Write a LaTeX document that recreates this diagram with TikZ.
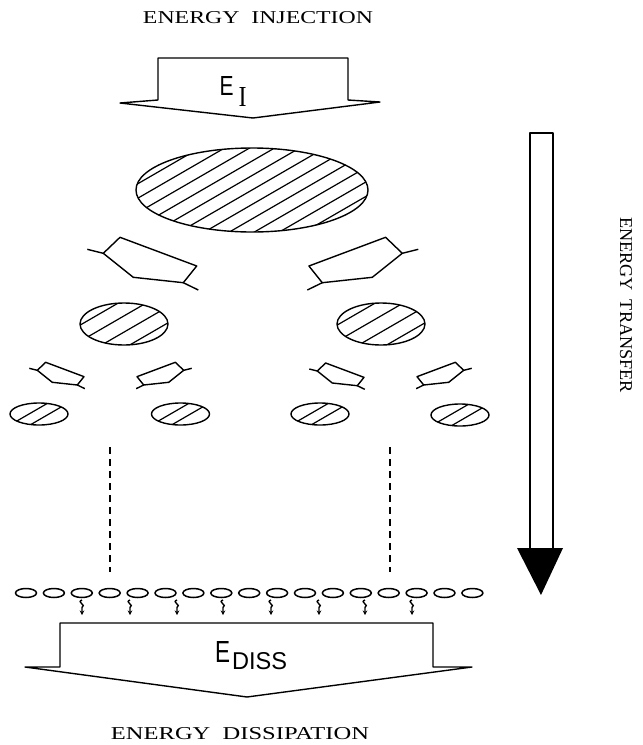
\documentclass[tikz,border=0pt]{standalone}
\usepackage{graphicx}
\usepackage{fontspec}
\setmainfont{Liberation Serif}
\setsansfont{Liberation Sans}
\usetikzlibrary{arrows.meta}
\newcommand\hatchell[7]{%
  \begin{scope}
    \clip (#1,#2) ellipse [x radius=#3pt, y radius=#4pt];
    \foreach \k in {#6} {\draw[hatchline] ({#1+\k*#5-121},{#2+70}) -- ({#1+\k*#5+121},{#2-70});}
  \end{scope}
  \draw[outl] (#1,#2) ellipse [x radius=#3pt, y radius=#4pt];
  \coordinate (#7) at (#1,#2);}
\begin{document}
\begin{tikzpicture}[x=1pt,y=-1pt,
  outl/.style={line width=1.4pt, line join=round},
  hatchline/.style={line width=1.2pt},
  lbl/.style={inner sep=0pt, font=\rmfamily},
  blockarr/.pic={
    \draw[outl, fill=white] (16,4)--(32.7,-12)--(109.4,16.7)--(96,33.4)--(46,28)--cycle;
    \draw[outl] (0,0)--(16,4) (96,33.4)--(111,40.7);
  },
  sq/.style={line width=1.4pt, -{Stealth[length=4.5pt,width=4.5pt]}},
  dashln/.style={line width=1.4pt, dash pattern=on 7pt off 5pt}
]
\useasboundingbox (0,0) rectangle (643,745);

% labels
\node[lbl] (inj) at (258,18) {\resizebox{230pt}{12pt}{ENERGY\ \ INJECTION}};
\node[lbl] (diss) at (240,734) {\resizebox{258pt}{12pt}{ENERGY\ \ DISSIPATION}};
\node[lbl, rotate=-90] (trans) at (626,305) {\resizebox{176pt}{12pt}{ENERGY\ \ TRANSFER}};

% injection arrow
\draw[outl] (158,100) -- (158,58) -- (348,58) -- (348,100) -- (380,102) -- (253,118) -- (120,103) -- cycle;
\node[inner sep=0pt] (ei) at (226.5,86) {\resizebox{14pt}{19pt}{\sffamily E}};
\node[inner sep=0pt] (eis) at (242.5,96.5) {\resizebox{8pt}{19pt}{\rmfamily I}};

% big eddy
\hatchell{252}{190}{116}{42}{25}{-5,...,5}{big}

% medium arrows
\pic at (87.3,249.3) {blockarr};
\pic[xscale=-1] at (418.3,249.3) {blockarr};

% medium eddies
\hatchell{124}{324}{44}{21}{28}{-1.5,-0.5,0.5,1.5}{medL}
\hatchell{381}{324}{44}{21}{28}{-1.5,-0.5,0.5,1.5}{medR}

% small arrows
\pic[scale=0.5] at (29.3,368.3) {blockarr};
\pic[xscale=-0.5, yscale=0.5] at (191.7,368.3) {blockarr};
\pic[scale=0.5] at (309.3,369) {blockarr};
\pic[xscale=-0.5, yscale=0.5] at (471.7,368.3) {blockarr};

% small eddies
\hatchell{39}{414}{29}{11}{20}{-0.5,0.5}{s1}
\hatchell{180.5}{414}{29}{11}{20}{-0.5,0.5}{s2}
\hatchell{320}{414}{29}{11}{20}{-0.5,0.5}{s3}
\hatchell{460}{415}{29}{11}{20}{-0.5,0.5}{s4}

% dashed continuation
\coordinate (dl1) at (110,447); \coordinate (dl2) at (110,572);
\coordinate (dr1) at (390,447); \coordinate (dr2) at (390,572);
\draw[dashln] (dl1) -- (dl2);
\draw[dashln] (dr1) -- (dr2);

% smallest eddies
\foreach \i in {0,...,16} {
  \draw[line width=1.5pt] ({26+27.9*\i},593) ellipse [x radius=10.5pt, y radius=4.5pt];
}

% squiggle arrows
\foreach \x in {82,130,177,223,271,319,365,412} {
  \draw[sq] (\x,600) .. controls ({\x-6},602) and ({\x+5},605) .. (\x,607.5) -- (\x,615);
}

% dissipation arrow
\draw[outl] (60,667) -- (60,623) -- (433,623) -- (433,667) -- (472,667) -- (247,697) -- (25,667) -- cycle;
\node[inner sep=0pt] (ed) at (222.5,651.5) {\resizebox{15pt}{21pt}{\sffamily E}};
\node[inner sep=0pt] (eds) at (259.5,661.5) {\resizebox{55pt}{17pt}{\sffamily DISS}};

% transfer arrow
\draw[outl] (530,548) -- (530,133) -- (553,133) -- (553,548);
\fill (517,548) -- (563,548) -- (541,595) -- cycle;
\end{tikzpicture}
\end{document}
